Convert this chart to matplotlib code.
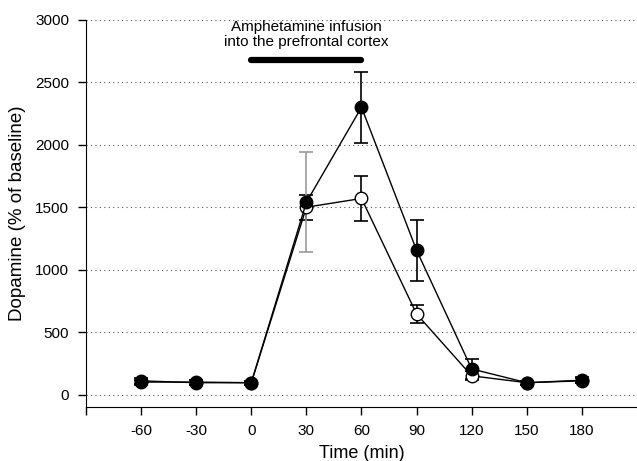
import matplotlib.pyplot as plt

plt.rcParams['font.family'] = ['Liberation Sans', 'DejaVu Sans']

# Dữ liệu
time = [-60, -30, 0, 30, 60, 90, 120, 150, 180]
filled_mean = [110, 95, 95, 1540, 2300, 1155, 205, 95, 115]
filled_err = [25, 20, 15, 400, 285, 245, 80, 15, 25]
open_mean = [100, 100, 95, 1500, 1570, 645, 150, 95, 110]
open_err = [20, 20, 15, 100, 180, 75, 35, 15, 20]

tick_pos = [-90, -60, -30, 0, 30, 60, 90, 120, 150, 180]
tick_labels = ['', '-60', '-30', '0', '30', '60', '90', '120', '150', '180']
y_ticks = [0, 500, 1000, 1500, 2000, 2500, 3000]

fig = plt.figure(figsize=(6.37, 4.61), dpi=100)
ax = fig.add_axes([0.135, 0.117, 0.865, 0.84])

# Đường lưới chấm
for y in y_ticks:
    ax.axhline(y, color='#555555', linestyle=(0, (1, 3)), linewidth=0.8, zorder=0)

# Sai số: cột 30 phút của nhóm đặc vẽ màu xám
err_colors = ['black'] * len(time)
err_colors[3] = '#999999'
for t, m, e in zip(time, open_mean, open_err):
    ax.errorbar(t, m, yerr=e, fmt='none', ecolor='black', elinewidth=1.2, capsize=5, capthick=1.2, zorder=2)
for t, m, e, c in zip(time, filled_mean, filled_err, err_colors):
    ax.errorbar(t, m, yerr=e, fmt='none', ecolor=c, elinewidth=1.2, capsize=5, capthick=1.2, zorder=2)

ax.plot(time, open_mean, color='black', linewidth=1, marker='o', markersize=9,
        markerfacecolor='white', markeredgecolor='black', markeredgewidth=1, zorder=3)
ax.plot(time, filled_mean, color='black', linewidth=1, marker='o', markersize=9,
        markerfacecolor='black', markeredgecolor='black', zorder=4)

# Thanh truyền thuốc
ax.plot([0, 60], [2680, 2680], color='black', linewidth=4.5, solid_capstyle='round')
ax.text(30, 2770, 'Amphetamine infusion\ninto the prefrontal cortex', ha='center', va='bottom',
        fontsize=11, linespacing=1.05)

ax.set_xlim(-90, 210)
ax.set_ylim(-100, 3000)
ax.set_xticks(tick_pos)
ax.set_xticklabels(tick_labels)
ax.set_yticks(y_ticks)
ax.tick_params(direction='out', length=6, width=1, labelsize=11, pad=6)
ax.spines['top'].set_visible(False)
ax.spines['right'].set_visible(False)
ax.set_xlabel('Time (min)', fontsize=13, labelpad=5)
ax.set_ylabel('Dopamine (% of baseline)', fontsize=13.5, labelpad=7)

plt.savefig('out.png', dpi=100)
